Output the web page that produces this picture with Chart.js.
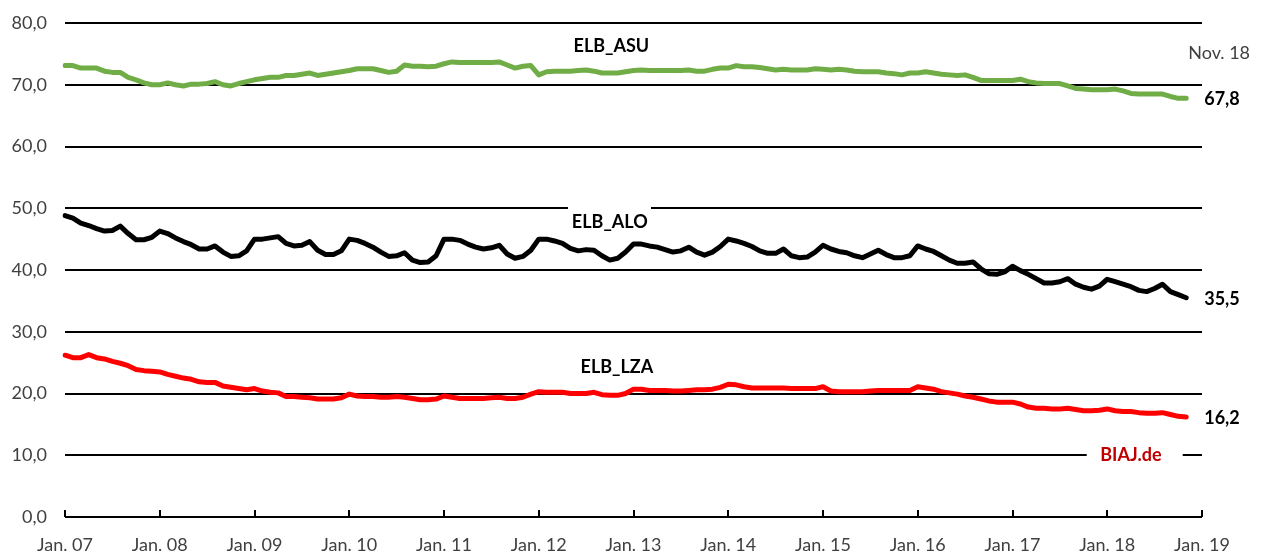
<!DOCTYPE html>
<html lang="de">
<head>
<meta charset="utf-8">
<script src="https://cdn.jsdelivr.net/npm/chart.js@4/dist/chart.umd.min.js"></script>
<style>
  html, body { margin: 0; padding: 0; background: #fff; }
  #wrap { width: 1263px; height: 554px; }
</style>
</head>
<body>
<div id="wrap"><canvas id="elb_grafik"></canvas></div>
<script>
// Jahre fuer die Achse (Jan. 07 bis Jan. 19), Monatswerte Jan. 07 bis Nov. 18
const jahre = ['07', '08', '09', '10', '11', '12', '13', '14', '15', '16', '17', '18', '19'];
const monatsNamen = ['Jan.', 'Feb.', 'Mrz.', 'Apr.', 'Mai', 'Jun.', 'Jul.', 'Aug.', 'Sep.', 'Okt.', 'Nov.', 'Dez.'];

const elbAsu = [
    73.1, 73.1, 72.7, 72.7, 72.7, 72.2, 72.0, 72.0, 71.2, 70.8, 70.3, 70.0,
    70.0, 70.3, 70.0, 69.8, 70.1, 70.1, 70.2, 70.5, 70.0, 69.8, 70.2, 70.5,
    70.8, 71.0, 71.2, 71.2, 71.5, 71.5, 71.7, 71.9, 71.5, 71.7, 71.9, 72.1,
    72.3, 72.6, 72.6, 72.6, 72.3, 72.0, 72.2, 73.2, 73.0, 73.0, 72.9, 73.0,
    73.4, 73.7, 73.6, 73.6, 73.6, 73.6, 73.6, 73.7, 73.2, 72.7, 73.0, 73.1,
    71.6, 72.1, 72.2, 72.2, 72.2, 72.3, 72.4, 72.2, 71.9, 71.9, 71.9, 72.1,
    72.3, 72.4, 72.3, 72.3, 72.3, 72.3, 72.3, 72.4, 72.2, 72.2, 72.5, 72.7,
    72.7, 73.1, 72.9, 72.9, 72.8, 72.6, 72.4, 72.5, 72.4, 72.4, 72.4, 72.6,
    72.5, 72.4, 72.5, 72.4, 72.2, 72.1, 72.1, 72.1, 71.9, 71.8, 71.6, 71.9,
    71.9, 72.1, 71.9, 71.7, 71.6, 71.5, 71.6, 71.2, 70.7, 70.7, 70.7, 70.7,
    70.7, 70.9, 70.5, 70.3, 70.2, 70.2, 70.2, 69.8, 69.4, 69.3, 69.2, 69.2,
    69.2, 69.3, 69.0, 68.6, 68.5, 68.5, 68.5, 68.5, 68.1, 67.8, 67.8
];

const elbAlo = [
    48.8, 48.4, 47.6, 47.2, 46.7, 46.3, 46.4, 47.1, 45.9, 44.9, 44.9, 45.3,
    46.3, 45.9, 45.2, 44.6, 44.1, 43.4, 43.4, 43.9, 42.9, 42.2, 42.3, 43.1,
    45.0, 45.0, 45.2, 45.4, 44.3, 43.9, 44.0, 44.6, 43.2, 42.5, 42.5, 43.1,
    45.0, 44.8, 44.3, 43.7, 42.9, 42.2, 42.3, 42.8, 41.6, 41.2, 41.3, 42.3,
    45.0, 45.0, 44.8, 44.2, 43.7, 43.4, 43.6, 44.0, 42.6, 41.9, 42.2, 43.2,
    45.0, 45.0, 44.7, 44.3, 43.5, 43.1, 43.3, 43.2, 42.3, 41.6, 41.9, 42.9,
    44.2, 44.2, 43.9, 43.7, 43.3, 42.9, 43.1, 43.7, 42.9, 42.4, 42.9, 43.8,
    45.0, 44.7, 44.3, 43.8, 43.1, 42.7, 42.7, 43.4, 42.3, 42.0, 42.1, 42.9,
    44.0, 43.4, 43.0, 42.8, 42.3, 42.0, 42.6, 43.2, 42.5, 42.0, 42.0, 42.3,
    43.9, 43.4, 43.0, 42.3, 41.6, 41.1, 41.1, 41.3, 40.2, 39.4, 39.3, 39.7,
    40.6, 39.9, 39.3, 38.6, 37.9, 37.9, 38.1, 38.6, 37.7, 37.2, 36.9, 37.4,
    38.5, 38.1, 37.7, 37.3, 36.7, 36.5, 37.0, 37.7, 36.5, 36.0, 35.5
];

const elbLza = [
    26.2, 25.8, 25.8, 26.3, 25.8, 25.6, 25.2, 24.9, 24.5, 23.9, 23.7, 23.6,
    23.5, 23.1, 22.8, 22.5, 22.3, 21.9, 21.8, 21.8, 21.2, 21.0, 20.8, 20.6,
    20.8, 20.4, 20.2, 20.1, 19.5, 19.5, 19.4, 19.3, 19.1, 19.1, 19.1, 19.3,
    19.9, 19.6, 19.5, 19.5, 19.4, 19.4, 19.5, 19.4, 19.2, 19.0, 19.0, 19.1,
    19.6, 19.4, 19.2, 19.2, 19.2, 19.2, 19.3, 19.4, 19.2, 19.2, 19.4, 19.9,
    20.3, 20.2, 20.2, 20.2, 20.0, 20.0, 20.0, 20.2, 19.8, 19.7, 19.7, 20.0,
    20.7, 20.7, 20.5, 20.5, 20.5, 20.4, 20.4, 20.5, 20.6, 20.6, 20.7, 21.0,
    21.5, 21.4, 21.1, 20.9, 20.9, 20.9, 20.9, 20.9, 20.8, 20.8, 20.8, 20.8,
    21.1, 20.4, 20.3, 20.3, 20.3, 20.3, 20.4, 20.5, 20.5, 20.5, 20.5, 20.5,
    21.1, 20.9, 20.7, 20.3, 20.1, 19.9, 19.6, 19.4, 19.1, 18.8, 18.6, 18.6,
    18.6, 18.3, 17.8, 17.6, 17.6, 17.5, 17.5, 17.6, 17.4, 17.2, 17.2, 17.3,
    17.5, 17.2, 17.1, 17.1, 16.9, 16.8, 16.8, 16.9, 16.6, 16.3, 16.2
];

const letzterMonat = 'Nov. 18';
const quelle = 'BIAJ.de';

document.addEventListener("DOMContentLoaded", function () {
    const ctx = document.getElementById('elb_grafik').getContext('2d');
    const schrift = 'Lato, "Open Sans", sans-serif';

    // Kategorien: jeder Monat von Jan. 07 bis Jan. 19
    const monate = [];
    jahre.forEach((j, k) => {
        monatsNamen.forEach((m, n) => {
            if (k < jahre.length - 1 || n === 0) monate.push(m + ' ' + j);
        });
    });

    function zahl(v) {
        return v.toFixed(1).replace('.', ',');
    }

    const beschriftung = {
        id: 'beschriftung',
        beforeDatasetsDraw(chart) {
            const c = chart.ctx;
            const x = chart.scales.x, y = chart.scales.y;
            c.save();
            c.fillStyle = '#fff';
            // Luecke im Gitter fuer ELB_ALO und BIAJ.de
            c.fillRect(x.getPixelForValue(63.7), y.getPixelForValue(50.6), 83, 22);
            c.fillRect(x.getPixelForValue(129.4), y.getPixelForValue(10.6), 96, 8);
            c.restore();
        },
        afterDatasetsDraw(chart) {
            const c = chart.ctx;
            const x = chart.scales.x, y = chart.scales.y;
            c.save();
            c.textBaseline = 'middle';

            c.font = 'bold 18px ' + schrift;
            c.fillStyle = '#000';
            c.textAlign = 'center';
            c.fillText('ELB_ASU', x.getPixelForValue(69.2), y.getPixelForValue(76.3));
            c.fillText('ELB_ALO', x.getPixelForValue(69.0), y.getPixelForValue(47.8));
            c.fillText('ELB_LZA', x.getPixelForValue(69.9), y.getPixelForValue(24.3));

            // Endwerte rechts neben den Linien
            c.textAlign = 'left';
            const last = elbAsu.length - 1;
            [elbAsu, elbAlo, elbLza].forEach(reihe => {
                c.fillText(zahl(reihe[last]), x.getPixelForValue(last) + 18, y.getPixelForValue(reihe[last]) + 1);
            });

            c.font = '18px ' + schrift;
            c.fillStyle = '#404040';
            c.fillText(letzterMonat, x.getPixelForValue(last) + 2, y.getPixelForValue(75.1));

            c.font = 'bold 18px ' + schrift;
            c.fillStyle = '#c00000';
            c.textAlign = 'center';
            c.fillText(quelle, x.getPixelForValue(135), y.getPixelForValue(10));

            // Teilstriche an der x-Achse nach oben
            c.strokeStyle = '#000';
            c.lineWidth = 2;
            const unten = y.getPixelForValue(0);
            for (let i = 0; i < monate.length; i += 12) {
                const px = Math.round(x.getPixelForValue(i));
                c.beginPath();
                c.moveTo(px, unten);
                c.lineTo(px, unten - 7);
                c.stroke();
            }
            c.restore();
        }
    };

    function linie(label, werte, farbe) {
        return {
            label: label,
            data: werte,
            borderColor: farbe,
            backgroundColor: farbe,
            borderWidth: 5,
            pointRadius: 0,
            tension: 0,
            borderJoinStyle: 'round',
            borderCapStyle: 'round'
        };
    }

    new Chart(ctx, {
        type: 'line',
        data: {
            labels: monate,
            datasets: [
                linie('ELB_ASU', elbAsu, '#70ad47'),
                linie('ELB_ALO', elbAlo, '#000000'),
                linie('ELB_LZA', elbLza, '#ff0000')
            ]
        },
        options: {
            responsive: true,
            maintainAspectRatio: false,
            animation: false,
            plugins: {
                legend: { display: false },
                tooltip: { enabled: false }
            },
            layout: {
                padding: { top: 23, right: 61, bottom: 0, left: 0 }
            },
            scales: {
                x: {
                    offset: false,
                    grid: { display: false },
                    border: { display: false },
                    afterFit: (s) => { s.height = 37; },
                    ticks: {
                        autoSkip: false,
                        maxRotation: 0,
                        padding: 9,
                        color: '#404040',
                        font: { family: schrift, size: 18 },
                        callback: function (v, i) {
                            return i % 12 === 0 ? monate[i] : null;
                        }
                    }
                },
                y: {
                    min: 0,
                    max: 80,
                    border: { display: false },
                    grid: { color: '#000', lineWidth: 2, drawTicks: false },
                    afterFit: (s) => {
                        s.width = 65;
                        s.paddingTop = 0;
                        s.paddingBottom = 0;
                    },
                    ticks: {
                        stepSize: 10,
                        padding: 18,
                        color: '#404040',
                        font: { family: schrift, size: 18 },
                        callback: (v) => zahl(v)
                    }
                }
            }
        },
        plugins: [beschriftung]
    });
});
</script>
</body>
</html>
